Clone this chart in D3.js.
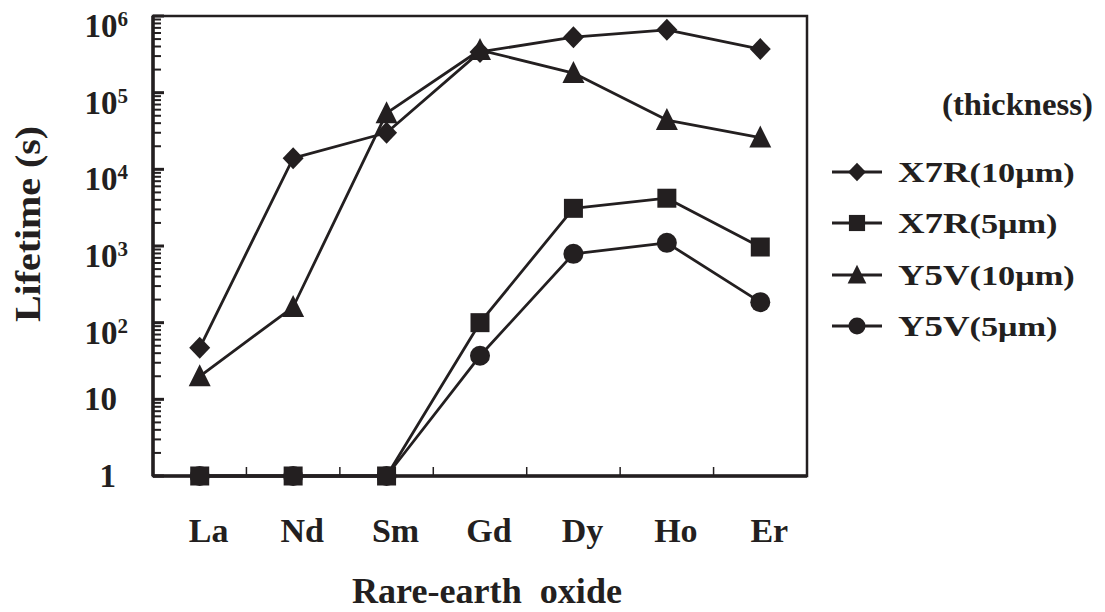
<!DOCTYPE html>
<html>
<head>
<meta charset="utf-8">
<script src="https://cdn.jsdelivr.net/npm/d3@7/dist/d3.min.js"></script>
<style>
  html, body { margin: 0; padding: 0; background: #fff; }
  svg { display: block; }
  text { font-family: "Liberation Serif", "Times New Roman", serif; font-weight: bold; fill: #231f20; }
</style>
</head>
<body>
<svg id="chart" width="1105" height="612"></svg>
<script>
// Lifetime of capacitors by rare-earth oxide additive
const categories = ["La", "Nd", "Sm", "Gd", "Dy", "Ho", "Er"];
const x7r10 = [47, 14000, 30000, 340000, 530000, 660000, 370000];
const y5v10 = [20, 160, 54000, 360000, 180000, 44000, 26000];
const x7r5  = [1, 1, 1, 100, 3100, 4200, 970];
const y5v5  = [1, 1, 1, 37, 790, 1100, 185];
const tickExponents = [0, 1, 2, 3, 4, 5, 6];
const seriesNames = ["X7R", "X7R", "Y5V", "Y5V"];
const seriesThickness = ["(10μm)", "(5μm)", "(10μm)", "(5μm)"];

const ink = "#231f20";
const svg = d3.select("#chart");

const plot = { left: 153, right: 807, top: 16, bottom: 476 };

const x = d3.scalePoint().domain(categories).range([plot.left, plot.right]).padding(0.5);
const y = d3.scaleLog().domain([1, 1e6]).range([plot.bottom, plot.top]);

// marker shapes
const shapes = {
  diamond: (s) => `M0,${-11 * s}L${10.5 * s},0L0,${11 * s}L${-10.5 * s},0Z`,
  square: (s) => `M${-9.5 * s},${-9.5 * s}h${19 * s}v${19 * s}h${-19 * s}Z`,
  triangle: (s) => `M0,${-12 * s}L${11 * s},${10 * s}L${-11 * s},${10 * s}Z`,
  circle: (s) => d3.arc()({ innerRadius: 0, outerRadius: 10 * s, startAngle: 0, endAngle: 2 * Math.PI })
};

// y-axis minor/major ticks (inward)
const minorVals = [];
for (let e = 0; e < 6; e++) {
  for (let m = 2; m <= 9; m++) minorVals.push(m * Math.pow(10, e));
}
svg.append("g").selectAll("line").data(minorVals).join("line")
  .attr("x1", plot.left).attr("x2", plot.left + 8)
  .attr("y1", d => y(d)).attr("y2", d => y(d))
  .attr("stroke", ink).attr("stroke-width", 2);
svg.append("g").selectAll("line").data(tickExponents).join("line")
  .attr("x1", plot.left).attr("x2", plot.left + 11)
  .attr("y1", d => y(Math.pow(10, d))).attr("y2", d => y(Math.pow(10, d)))
  .attr("stroke", ink).attr("stroke-width", 3);

// x-axis ticks between categories
const step = x.step();
const xTicks = categories.slice(0, -1).map(c => x(c) + step / 2);
svg.append("g").selectAll("line").data(xTicks).join("line")
  .attr("x1", d => d).attr("x2", d => d)
  .attr("y1", plot.bottom).attr("y2", plot.bottom - 9)
  .attr("stroke", ink).attr("stroke-width", 1.5);

// frame
svg.append("rect")
  .attr("x", plot.left).attr("y", plot.top)
  .attr("width", plot.right - plot.left).attr("height", plot.bottom - plot.top)
  .attr("fill", "none").attr("stroke", ink).attr("stroke-width", 2.5);
svg.append("line").attr("x1", plot.left).attr("x2", plot.left)
  .attr("y1", plot.top).attr("y2", plot.bottom).attr("stroke", ink).attr("stroke-width", 3.5);
svg.append("line").attr("x1", plot.left).attr("x2", plot.right)
  .attr("y1", plot.bottom).attr("y2", plot.bottom).attr("stroke", ink).attr("stroke-width", 3.5);

// y tick labels
const yLab = svg.append("g");
tickExponents.forEach(e => {
  const ty = y(Math.pow(10, e));
  if (e === 0) {
    yLab.append("text").attr("x", 116).attr("y", ty + 11)
      .attr("text-anchor", "end").attr("font-size", 33).text("1");
  } else if (e === 1) {
    yLab.append("text").attr("x", 117).attr("y", ty + 11)
      .attr("text-anchor", "end").attr("font-size", 33).text("10");
  } else {
    const t = yLab.append("text").attr("x", 128).attr("y", ty + 21)
      .attr("text-anchor", "end").attr("font-size", 33);
    t.append("tspan").text("10");
    t.append("tspan").attr("font-size", 21).attr("dy", -11).text(String(e));
  }
});

// category labels
svg.append("g").selectAll("text").data(categories).join("text")
  .attr("x", d => x(d) + 9).attr("y", 542)
  .attr("text-anchor", "middle").attr("font-size", 34)
  .text(d => d);

// axis titles
svg.append("text").attr("x", 487).attr("y", 603)
  .attr("text-anchor", "middle").attr("font-size", 35)
  .attr("textLength", 270).attr("lengthAdjust", "spacingAndGlyphs")
  .attr("xml:space", "preserve").text("Rare-earth  oxide");
svg.append("text")
  .attr("transform", "translate(40,224) rotate(-90)")
  .attr("text-anchor", "middle").attr("font-size", 36)
  .attr("textLength", 196).attr("lengthAdjust", "spacingAndGlyphs")
  .text("Lifetime (s)");

// series
const series = [
  { values: y5v5, shape: "circle" },
  { values: x7r5, shape: "square" },
  { values: y5v10, shape: "triangle" },
  { values: x7r10, shape: "diamond" }
];
const line = d3.line().x((d, i) => x(categories[i])).y(d => y(d));
series.forEach(s => {
  svg.append("path").datum(s.values).attr("d", line)
    .attr("fill", "none").attr("stroke", ink).attr("stroke-width", 2.8)
    .attr("stroke-linejoin", "round");
  svg.append("g").selectAll("path").data(s.values).join("path")
    .attr("transform", (d, i) => `translate(${x(categories[i])},${y(d)})`)
    .attr("d", shapes[s.shape](1))
    .attr("fill", ink);
});

// legend
svg.append("text").attr("x", 1093).attr("y", 115)
  .attr("text-anchor", "end").attr("font-size", 31)
  .attr("textLength", 151).attr("lengthAdjust", "spacingAndGlyphs")
  .text("(thickness)");
const legendShapes = ["diamond", "square", "triangle", "circle"];
const legendY = [172, 223, 275, 326];
legendShapes.forEach((sh, i) => {
  const g = svg.append("g").attr("transform", `translate(0,${legendY[i]})`);
  g.append("line").attr("x1", 832).attr("x2", 882).attr("y1", 0).attr("y2", 0)
    .attr("stroke", ink).attr("stroke-width", 2.8);
  g.append("path").attr("transform", "translate(857,0)").attr("d", shapes[sh](0.85)).attr("fill", ink);
  const t = g.append("text").attr("transform", "translate(898,10) scale(1.27,1)");
  t.append("tspan").attr("font-size", 29).text(seriesNames[i]);
  t.append("tspan").attr("font-size", 27).text(seriesThickness[i]);
});
</script>
</body>
</html>
